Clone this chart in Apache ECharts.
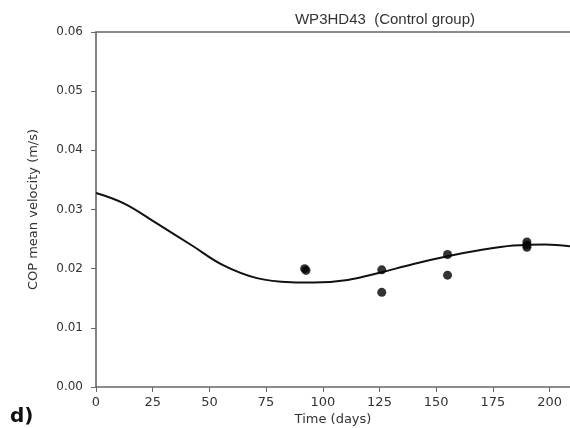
<!DOCTYPE html>
<html>
<head>
<meta charset="utf-8">
<script src="https://cdn.jsdelivr.net/npm/echarts@6/dist/echarts.min.js"></script>
<style>
  html, body { margin: 0; padding: 0; background: #fff; }
  #chart { width: 570px; height: 428px; }
</style>
</head>
<body>
<div id="chart"></div>
<script>
// fitted curve
var fit_days = [0, 12.5, 27, 42, 56, 71, 86, 96, 111, 125, 140, 155, 169, 184, 198, 209];
var fit_vel  = [0.0328, 0.0310, 0.0276, 0.0240, 0.0206, 0.0184, 0.0177, 0.01765, 0.0181, 0.0193, 0.0208, 0.0221, 0.0231, 0.0239, 0.0241, 0.0238];
// measured sessions
var obs_days = [92, 92.6, 126, 126, 155, 155, 190, 190, 190];
var obs_vel  = [0.0200, 0.0197, 0.0198, 0.0160, 0.0224, 0.0189, 0.0245, 0.0240, 0.0236];

var fit = fit_days.map(function(d, i) { return [d, fit_vel[i]]; });
var obs = obs_days.map(function(d, i) { return [d, obs_vel[i]]; });

var axis_col = '#666';
var lbl = { color: '#333', fontSize: 12, fontFamily: 'DejaVu Sans' };

var chart = echarts.init(document.getElementById('chart'));
chart.setOption({
  animation: false,
  grid: { left: 96, right: 0, top: 32, bottom: 41, outerBoundsMode: 'none', containLabel: false },
  title: [
    { text: 'WP3HD43  (Control group)', left: 380, top: 7, textAlign: 'center',
      textStyle: { fontSize: 15, fontWeight: 'normal', color: '#333', fontFamily: 'Liberation Sans' } },
    { text: 'd)', left: 5, top: 402,
      textStyle: { fontSize: 20, fontWeight: 'bold', color: '#111', fontFamily: 'DejaVu Sans' } }
  ],
  xAxis: [{
    type: 'value', min: 0, max: 209, interval: 25,
    name: 'Time (days)', nameLocation: 'middle', nameGap: 26, nameMoveOverlap: false,
    nameTextStyle: { color: '#333', fontSize: 13, fontFamily: 'DejaVu Sans' },
    axisLine: { lineStyle: { color: axis_col, width: 1.6 } },
    axisTick: { length: 5, lineStyle: { color: axis_col } },
    axisLabel: Object.assign({}, lbl, { margin: 9, fontSize: 13, showMaxLabel: false }),
    splitLine: { show: false }
  }, {
    type: 'value', min: 0, max: 209, position: 'top',
    axisLine: { show: true, onZero: false, lineStyle: { color: axis_col, width: 1.6 } },
    axisTick: { show: false }, axisLabel: { show: false }, splitLine: { show: false }
  }],
  yAxis: {
    type: 'value', min: 0, max: 0.06, interval: 0.01,
    name: 'COP mean velocity (m/s)', nameLocation: 'middle', nameGap: 56, nameMoveOverlap: false,
    nameTextStyle: { color: '#333', fontSize: 13, fontFamily: 'DejaVu Sans' },
    axisLine: { show: true, lineStyle: { color: axis_col, width: 1.6 } },
    axisTick: { show: true, length: 5, lineStyle: { color: axis_col } },
    axisLabel: Object.assign({ margin: 13, formatter: function(v) { return v.toFixed(2); } }, lbl),
    splitLine: { show: false }
  },
  series: [{
    type: 'line', data: fit, smooth: 0.4, showSymbol: false, symbol: 'none',
    lineStyle: { color: '#111', width: 2 }, z: 2
  }, {
    type: 'scatter', data: obs, symbol: 'circle', symbolSize: 9,
    itemStyle: { color: '#000' }, z: 3
  }]
});
</script>
</body>
</html>
